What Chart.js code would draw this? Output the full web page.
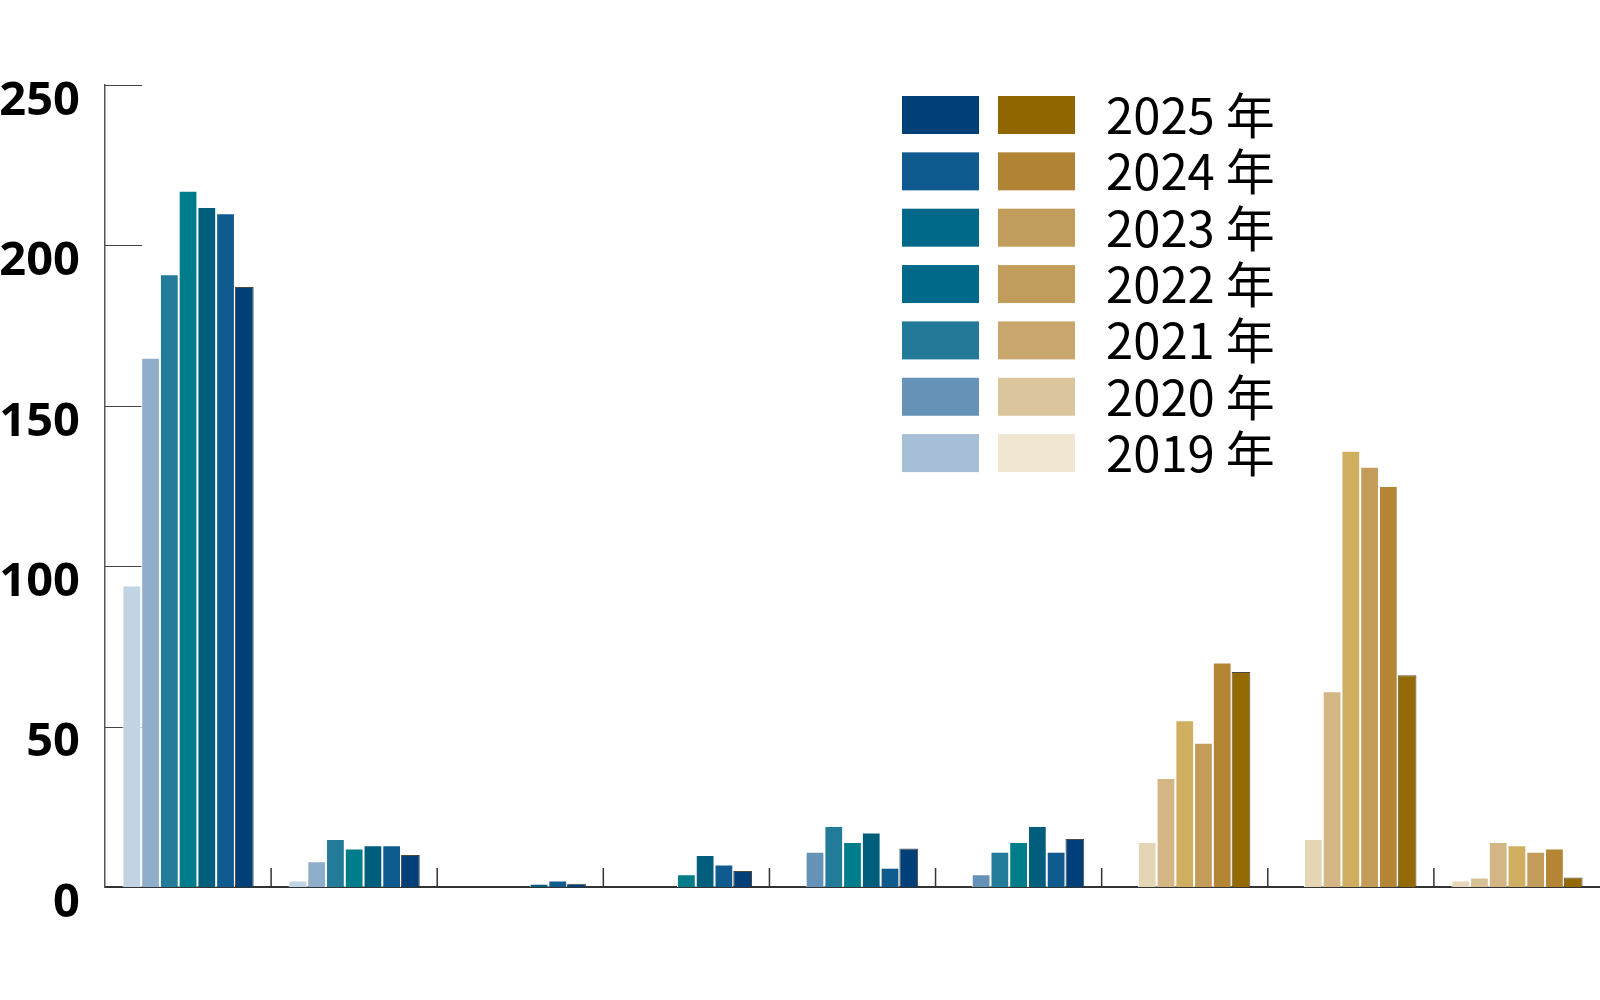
<!DOCTYPE html>
<html>
<head>
<meta charset="utf-8">
<script src="https://cdn.jsdelivr.net/npm/chart.js@4.4.1/dist/chart.umd.min.js"></script>
<style>
  html, body { margin: 0; padding: 0; background: #ffffff; }
  #wrap { width: 1600px; height: 1000px; }
</style>
</head>
<body>
<div id="wrap"><canvas id="c" width="1600" height="1000"></canvas></div>
<script>
// ---- data ----
const categories = ['1', '2', '3', '4', '5', '6', '7', '8', '9'];
const years = ['2019 年', '2020 年', '2021 年', '2022 年', '2023 年', '2024 年', '2025 年'];

const v2019 = [94, 2, 0, 0, 0, 0, 0, 0, 2];
const v2020 = [165, 8, 0, 0, 11, 4, 14, 15, 3];
const v2021 = [191, 15, 0, 0, 19, 11, 34, 61, 14];
const v2022 = [217, 12, 0, 4, 14, 14, 52, 136, 13];
const v2023 = [212, 13, 1, 10, 17, 19, 45, 131, 11];
const v2024 = [210, 13, 2, 7, 6, 11, 70, 125, 12];
const v2025 = [187, 10, 1, 5, 12, 15, 67, 66, 3];

const yTicks = [0, 50, 100, 150, 200, 250];

// bar colours per category (blue group for first six, gold group for last three)
const c2019 = ['#c2d3e3','#c2d3e3','#c2d3e3','#c2d3e3','#c2d3e3','#c2d3e3','#e5d7b7','#e5d7b7','#e5d7b7'];
const c2020 = ['#8eaecb','#8eaecb','#6692b8','#6692b8','#6692b8','#6692b8','#e4d5b5','#e4d5b5','#d7c196'];
const c2021 = ['#227b98','#227b98','#227b98','#227b98','#227b98','#227b98','#d3b684','#d3b684','#d3b684'];
const c2022 = ['#007d8a','#007d8a','#007d8a','#007d8a','#007d8a','#007d8a','#cfae5f','#cfae5f','#cfae5f'];
const c2023 = ['#005d7c','#005d7c','#005d7c','#005d7c','#005d7c','#005d7c','#c49c5a','#c49c5a','#c49c5a'];
const c2024 = ['#0f5a8f','#0f5a8f','#0f5a8f','#0f5a8f','#0f5a8f','#0f5a8f','#b38534','#b38534','#b38534'];
const c2025 = ['#003f77','#003f77','#003f77','#003f77','#003f77','#003f77','#936a03','#936a03','#936a03'];

// legend swatch colours (top row = 2025)
const legendYears = ['2025 年', '2024 年', '2023 年', '2022 年', '2021 年', '2020 年', '2019 年'];
const legendBlue = ['#004077', '#0f5a8f', '#006888', '#006888', '#227a98', '#6692b8', '#a6bfd6'];
const legendGold = ['#8f6600', '#b08434', '#c29c5a', '#c29c5a', '#c9a76c', '#dbc59c', '#f0e6d2'];

const seriesValues = [v2019, v2020, v2021, v2022, v2023, v2024, v2025];
const seriesColors = [c2019, c2020, c2021, c2022, c2023, c2024, c2025];

const datasets = seriesValues.map((vals, i) => ({
  label: years[i],
  data: vals,
  backgroundColor: seriesColors[i],
  borderColor: i === 6 ? 'rgba(45,40,30,0.85)' : '#ffffff',
  borderWidth: 1,
  categoryPercentage: 0.79,
  barPercentage: 1.0
}));

const decorPlugin = {
  id: 'decor',
  beforeDatasetsDraw(chart) {
    const ctx = chart.ctx;
    const y = chart.scales.y;
    const x = chart.scales.x;
    const area = chart.chartArea;
    ctx.save();
    // short inner ticks on the value axis
    ctx.strokeStyle = '#444444';
    ctx.lineWidth = 1.2;
    yTicks.forEach(v => {
      if (v === 0) return;
      const py = Math.round(y.getPixelForValue(v)) + 0.5;
      ctx.beginPath();
      ctx.moveTo(area.left, py);
      ctx.lineTo(area.left + 37, py);
      ctx.stroke();
    });
    // category separators on the baseline
    ctx.strokeStyle = '#333333';
    ctx.lineWidth = 1.5;
    for (let i = 1; i < categories.length; i++) {
      const px = (x.getPixelForValue(i - 1) + x.getPixelForValue(i)) / 2;
      ctx.beginPath();
      ctx.moveTo(px, area.bottom);
      ctx.lineTo(px, area.bottom - 19);
      ctx.stroke();
    }
    ctx.restore();
  },
  afterDraw(chart) {
    const ctx = chart.ctx;
    ctx.save();
    const top0 = 96;
    const step = 56.35;
    const h = 38;
    ctx.font = '49px "Noto Sans CJK SC", "Noto Sans", sans-serif';
    ctx.textBaseline = 'alphabetic';
    ctx.textAlign = 'left';
    legendYears.forEach((label, i) => {
      const ty = top0 + i * step;
      ctx.fillStyle = legendBlue[i];
      ctx.fillRect(902, ty, 77, h);
      ctx.fillStyle = legendGold[i];
      ctx.fillRect(998, ty, 77, h);
      ctx.fillStyle = '#000000';
      ctx.fillText(label, 1106, ty + 38);
    });
    ctx.restore();
  }
};

new Chart(document.getElementById('c'), {
  type: 'bar',
  data: { labels: categories, datasets: datasets },
  options: {
    responsive: false,
    animation: false,
    events: [],
    layout: { padding: { top: 85, bottom: 113, left: 0, right: 0 } },
    plugins: { legend: { display: false }, tooltip: { enabled: false }, title: { display: false } },
    scales: {
      x: {
        offset: true,
        grid: { display: false, drawTicks: false },
        border: { display: true, color: '#333333', width: 2 },
        ticks: { display: false }
      },
      y: {
        min: 0,
        max: 250,
        afterBuildTicks(scale) { scale.ticks = yTicks.map(v => ({ value: v })); },
        afterFit(scale) { scale.width = 105; },
        grid: { display: false, drawTicks: false },
        border: { display: true, color: '#555555', width: 1.5 },
        ticks: {
          padding: 25,
          color: '#000000',
          font: { family: '"Noto Sans", "Open Sans", sans-serif', size: 47, weight: 'bold', lineHeight: 0.7 },
          callback: (v) => ['', String(v)]
        }
      }
    }
  },
  plugins: [decorPlugin]
});
</script>
</body>
</html>
